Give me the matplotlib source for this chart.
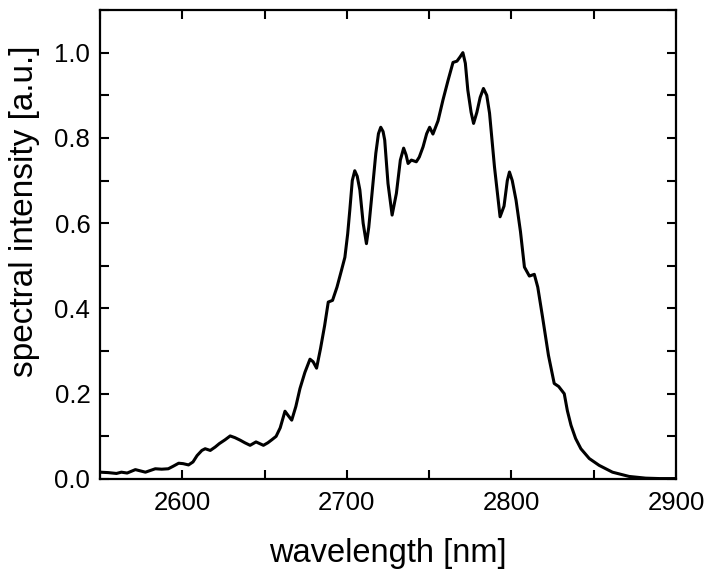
import matplotlib
matplotlib.use("Agg")
import matplotlib.pyplot as plt
from matplotlib.ticker import MultipleLocator, FormatStrFormatter

wavelength = [2550.0, 2555.0, 2560.0, 2563.0, 2566.5, 2571.5, 2577.6, 2583.6, 2587.5, 2591.5,
              2594.5, 2597.8, 2600.5, 2603.8, 2606.5, 2609.0, 2611.9, 2613.9, 2617.0, 2620.0,
              2622.5, 2626.0, 2629.1, 2632.0, 2635.2, 2638.0, 2641.2, 2644.8, 2649.3, 2652.0,
              2654.4, 2657.0, 2659.5, 2662.4, 2664.5, 2666.5, 2669.0, 2671.5, 2674.5, 2677.6,
              2679.5, 2681.6, 2684.0, 2686.5, 2688.7, 2691.3, 2694.0, 2696.7, 2698.8, 2700.5,
              2701.8, 2703.3, 2704.8, 2706.3, 2707.9, 2709.9, 2711.9, 2713.3, 2714.9, 2717.6,
              2719.2, 2720.6, 2722.0, 2723.0, 2725.0, 2727.5, 2730.1, 2732.5, 2734.5, 2736.0,
              2737.2, 2739.2, 2742.2, 2744.0, 2746.3, 2748.5, 2750.3, 2752.3, 2755.4, 2758.4,
              2761.5, 2764.5, 2766.9, 2768.8, 2770.5, 2772.0, 2773.5, 2775.5, 2777.0, 2779.0,
              2781.0, 2783.0, 2785.0, 2786.7, 2789.7, 2793.1, 2795.5, 2797.5, 2798.8, 2800.5,
              2802.8, 2805.5, 2807.9, 2810.9, 2813.9, 2816.0, 2818.9, 2822.5, 2826.0, 2828.7,
              2832.1, 2834.0, 2836.2, 2839.0, 2842.2, 2847.3, 2853.3, 2861.4, 2871.5, 2881.6,
              2890.0, 2899.5]
intensity = [0.016, 0.015, 0.013, 0.016, 0.014, 0.022, 0.016, 0.024, 0.023, 0.024,
             0.030, 0.037, 0.036, 0.033, 0.040, 0.055, 0.067, 0.071, 0.067, 0.075,
             0.083, 0.092, 0.101, 0.097, 0.091, 0.085, 0.079, 0.087, 0.079, 0.085,
             0.092, 0.100, 0.120, 0.159, 0.148, 0.138, 0.170, 0.212, 0.250, 0.281,
             0.275, 0.260, 0.306, 0.360, 0.415, 0.419, 0.450, 0.489, 0.520, 0.575,
             0.631, 0.700, 0.723, 0.710, 0.678, 0.600, 0.552, 0.590, 0.654, 0.764,
             0.810, 0.825, 0.815, 0.795, 0.693, 0.619, 0.670, 0.748, 0.776, 0.760,
             0.740, 0.748, 0.744, 0.755, 0.779, 0.810, 0.825, 0.809, 0.840, 0.889,
             0.935, 0.977, 0.980, 0.990, 1.000, 0.975, 0.912, 0.860, 0.834, 0.860,
             0.895, 0.916, 0.900, 0.858, 0.732, 0.615, 0.640, 0.700, 0.720, 0.700,
             0.654, 0.580, 0.497, 0.476, 0.480, 0.450, 0.380, 0.290, 0.224, 0.217,
             0.200, 0.160, 0.126, 0.095, 0.071, 0.048, 0.032, 0.016, 0.006, 0.002,
             0.001, 0.001]

plt.rcParams['font.family'] = ['Liberation Sans', 'DejaVu Sans']

fig = plt.figure(figsize=(7.14, 5.80), dpi=100)
ax = fig.add_axes([100/714, 1 - 479/580, 576/714, 469/580])
ax.plot(wavelength, intensity, color='black', linewidth=2.2,
        solid_joinstyle='round', solid_capstyle='round')

ax.set_xlim(2550, 2900)
ax.set_ylim(0, 1.1)
ax.xaxis.set_major_locator(MultipleLocator(100))
ax.xaxis.set_minor_locator(MultipleLocator(50))
ax.yaxis.set_major_locator(MultipleLocator(0.2))
ax.yaxis.set_minor_locator(MultipleLocator(0.1))
ax.yaxis.set_major_formatter(FormatStrFormatter('%.1f'))
ax.tick_params(which='both', direction='in', top=True, right=True, width=1.5,
               length=6.5, labelsize=18.5)
ax.tick_params(axis='x', pad=9)
ax.tick_params(axis='y', pad=7)
for s in ax.spines.values():
    s.set_linewidth(1.6)

ax.set_xlabel('wavelength [nm]', fontsize=23.5, labelpad=16)
ax.set_ylabel('spectral intensity [a.u.]', fontsize=24)
ax.yaxis.set_label_coords(-0.104, 0.571)

fig.savefig('out.png', dpi=100)
